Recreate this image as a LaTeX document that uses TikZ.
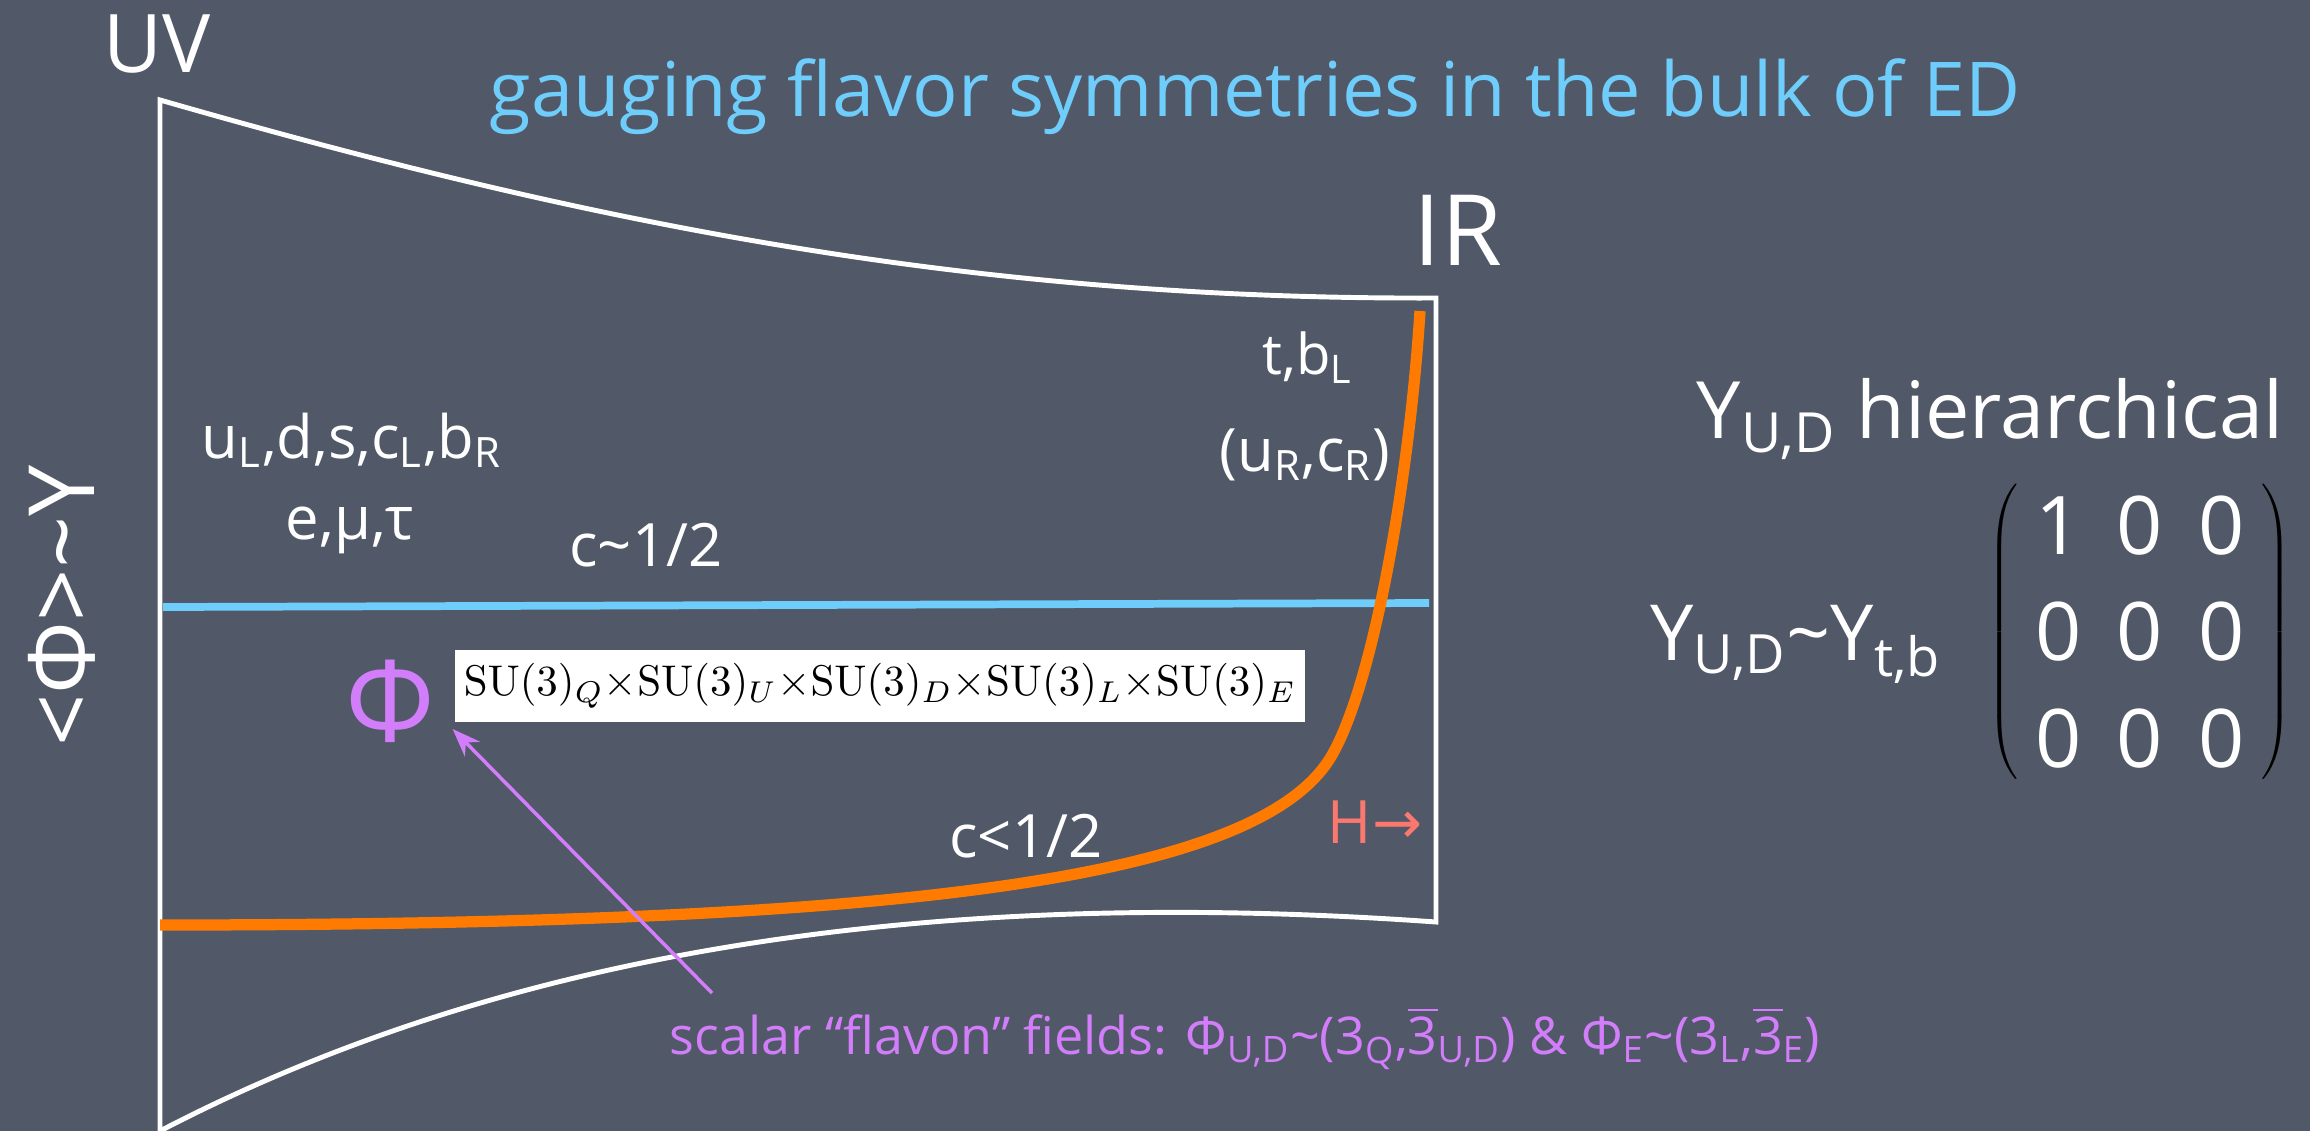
\documentclass[tikz,border=0pt]{standalone}
\usepackage[no-math]{fontspec}
\setmainfont{Open Sans}
\newfontfamily\arrowfont{DejaVu Sans}
\usepackage{amsmath}
\usepackage{tikz}
\usetikzlibrary{arrows.meta,matrix}
\definecolor{ChalkBoard}{RGB}{81,88,103}
\definecolor{ChalkBlue}{RGB}{110,205,250}
\definecolor{FlavonPurple}{RGB}{210,125,250}
\definecolor{ProfileOrange}{RGB}{255,122,0}
\definecolor{HiggsRed}{RGB}{250,120,110}
\newcommand{\fsz}[1]{\fontsize{#1}{#1}\selectfont}
\newcommand{\lo}[1]{\textsubscript{#1}}
\newcommand{\bthree}{$\overline{\mbox{3}}$}

\begin{document}
\begin{tikzpicture}[x=0.01cm,y=-0.01cm,>={Stealth[length=8pt,width=6pt]},
  chalk/.style={text=white,inner sep=0pt},
  wall/.style={white,line width=1.4pt},
  flavon/.style={text=FlavonPurple,inner sep=0pt}]
  \fill[ChalkBoard] (0,0) rectangle (2310,1131);
  % the slice of ED
  \draw[wall] (160,1131) -- (160,100) .. controls (560,215) and (950,300) .. (1436,298)
    -- (1436,922) .. controls (850,880) and (450,980) .. (160,1131);
  \draw[ChalkBlue,line width=2.2pt] (163,607) -- (1429,603);
  \draw[ProfileOrange,line width=3.2pt] (160,925) .. controls (900,925) and (1260,880) .. (1332,755)
    .. controls (1375,680) and (1410,470) .. (1420,311);

  \node[chalk,font=\fsz{23}] (uv) at (157,44) {UV};
  \node[text=ChalkBlue,font=\fsz{21.5},inner sep=0pt] (title) at (1255,97) {gauging flavor symmetries in the bulk of ED};
  \node[chalk,font=\fsz{28}] (ir) at (1458,230) {IR};
  \node[chalk,font=\fsz{26},rotate=90] (vev) at (62,606) {<Φ>\textasciitilde Y};

  \node[chalk,font=\fsz{17}] (light) at (352,440) {u\lo{L},d,s,c\lo{L},b\lo{R}};
  \node[chalk,font=\fsz{17}] (lept) at (350,530) {e,μ,τ};
  \node[chalk,font=\fsz{17}] (chalf) at (646,545) {c\textasciitilde 1/2};
  \node[chalk,font=\fsz{16}] (tb) at (1308,358) {t,b\lo{L}};
  \node[chalk,font=\fsz{17}] (ucr) at (1305,455) {(u\lo{R},c\lo{R})};
  \node[chalk,font=\fsz{17}] (cless) at (1026,836) {c<1/2};
  \node[text=HiggsRed,font=\fsz{17},inner sep=0pt] (higgs) at (1375,822) {H{\arrowfont →}};

  \node[flavon,font=\fsz{32},inner sep=2pt] (phi) at (390,701) {Φ};
  \node[fill=white,inner sep=0pt,minimum width=8.5cm,minimum height=0.71cm] (subox) at (880,686)
    {\resizebox{8.32cm}{!}{$\mathrm{SU}(3)_Q{\times}\mathrm{SU}(3)_U{\times}\mathrm{SU}(3)_D{\times}\mathrm{SU}(3)_L{\times}\mathrm{SU}(3)_E$}};
  \node[flavon,font=\fsz{14.8}] (flav) at (1245,1038)
    {scalar “flavon” fields: Φ\lo{U,D}\textasciitilde(3\lo{Q},\bthree\lo{U,D}) \& Φ\lo{E}\textasciitilde(3\lo{L},\bthree\lo{E})};
  \coordinate (flavtail) at (712,993);
  \draw[->,FlavonPurple,line width=1pt] (flavtail) -- ([shift={(10,-21)}]phi.south east);

  % Yukawa texture
  \node[chalk,font=\fsz{22.5},anchor=base] (yhier) at (1990,438) {Y\lo{U,D} hierarchical};
  \node[chalk,font=\fsz{22},anchor=base] (yrel) at (1796,660) {Y\lo{U,D}\textasciitilde Y\lo{t,b}};
  \matrix (yuk) [matrix of nodes,left delimiter=(,right delimiter=),
    nodes={chalk,font=\fsz{23},minimum width=0.44cm,minimum height=0.5cm},
    column sep=0.355cm,row sep=0.47cm,text=white] at (2140,632)
    {1 & 0 & 0\\ 0 & 0 & 0\\ 0 & 0 & 0\\};
\end{tikzpicture}
\end{document}
